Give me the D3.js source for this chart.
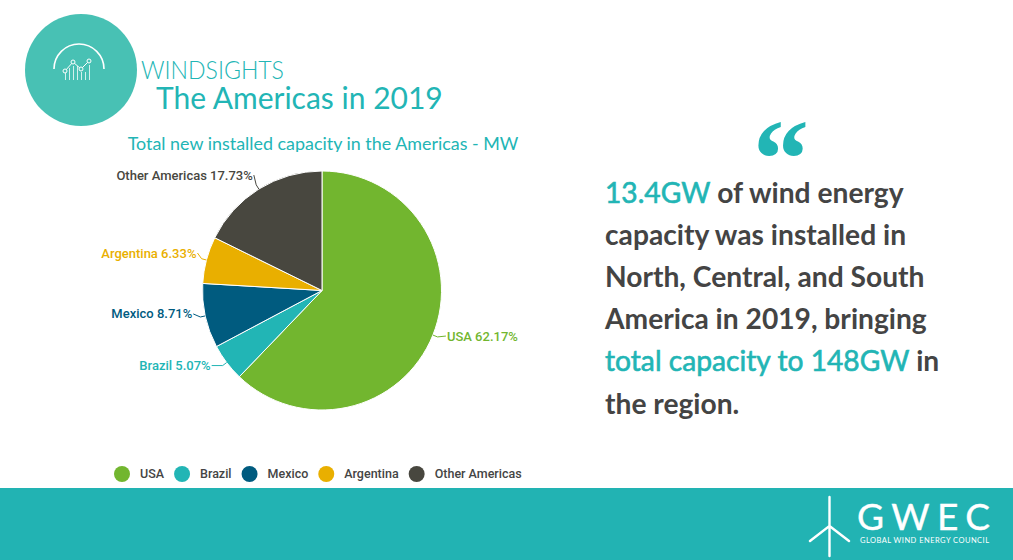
<!DOCTYPE html>
<html>
<head>
<meta charset="utf-8">
<script src="https://cdnjs.cloudflare.com/ajax/libs/d3/7.8.5/d3.min.js"></script>
<style>
  html, body { margin: 0; padding: 0; background: #fff; }
  svg { display: block; }
  text { font-family: Lato, sans-serif; }
  .lbl, .leg { font-family: Roboto, sans-serif; font-weight: 500; }
  .lbl { font-size: 13px; }
  .leg { font-size: 12.5px; }
</style>
</head>
<body>
<svg id="chart" width="1013" height="560"></svg>
<script>
// donnees du camembert
const regions = ["USA", "Brazil", "Mexico", "Argentina", "Other Americas"];
const shares = [62.17, 5.07, 8.71, 6.33, 17.73];
const colours = ["#72b62f", "#22b5b5", "#005b7f", "#e9af00", "#48473f"];

// texte de droite : [morceau, en couleur ?]
const quoteLines = [
  [["13.4GW", true], [" of wind energy", false]],
  [["capacity was installed in", false]],
  [["North, Central, and South", false]],
  [["America in 2019, bringing", false]],
  [["total capacity to 148GW", true], [" in", false]],
  [["the region.", false]]
];

// decalage des etiquettes par rapport au bord de la part
const labelNudge = [[14, 1], [-16, 3], [-13, -2], [-10, -7], [-6, -14]];

const teal = "#22b5b5";
const dark = "#444444";
const cx = 322, cy = 290.5, radius = 119.5;

const svg = d3.select("#chart");

// bandeau du bas
svg.append("rect").attr("x", 0).attr("y", 488).attr("width", 1013).attr("height", 72).attr("fill", "#22b3b3");

/* ---------- entete ---------- */
svg.append("circle").attr("cx", 81).attr("cy", 70).attr("r", 56).attr("fill", "#48c1b4");

const icon = svg.append("g").attr("fill", "none").attr("stroke", "#fff");
icon.append("path")
  .attr("d", d3.arc()({ innerRadius: 25, outerRadius: 25, startAngle: -Math.PI / 2, endAngle: Math.PI / 2 }))
  .attr("transform", "translate(79,69)")
  .attr("stroke-width", 1.6);
const iconPts = [[65, 71], [73, 62], [81, 69], [89, 61]];
icon.append("path").attr("d", d3.line()(iconPts)).attr("stroke-width", 1);
[[65.5, 72], [69.5, 68], [73.5, 66], [77.5, 66], [81.5, 72], [85.5, 72], [89.5, 65]].forEach(b => {
  icon.append("line").attr("x1", b[0]).attr("x2", b[0]).attr("y1", b[1]).attr("y2", 80).attr("stroke-width", 0.9).attr("opacity", 0.85);
});
iconPts.forEach(p => {
  icon.append("circle").attr("cx", p[0]).attr("cy", p[1]).attr("r", 2).attr("fill", "#48c1b4").attr("stroke-width", 1);
});

svg.append("text").attr("x", 141).attr("y", 79).attr("font-size", 25).attr("font-weight", 300)
  .attr("fill", teal).attr("textLength", 143).attr("lengthAdjust", "spacingAndGlyphs").text("WINDSIGHTS");
svg.append("text").attr("x", 156).attr("y", 109).attr("font-size", 30).attr("fill", teal).text("The Americas in 2019");

// le titre est coupe en bas dans l'original
svg.append("clipPath").attr("id", "titleClip").append("rect")
  .attr("x", 100).attr("y", 125).attr("width", 450).attr("height", 27);
svg.append("g").attr("clip-path", "url(#titleClip)").append("text")
  .attr("x", 323).attr("y", 150).attr("text-anchor", "middle").attr("font-size", 17.9)
  .attr("fill", teal).text("Total new installed capacity in the Americas - MW");

/* ---------- camembert ---------- */
const pieData = d3.pie().sort(null)(shares);
const arc = d3.arc().innerRadius(0).outerRadius(radius);
const pieG = svg.append("g").attr("transform", `translate(${cx},${cy})`);

pieG.selectAll("path.slice")
  .data(pieData)
  .enter()
  .append("path")
  .attr("class", "slice")
  .attr("d", arc)
  .attr("fill", (d, i) => colours[i])
  .attr("stroke", "#fff")
  .attr("stroke-width", 1);

pieData.forEach((d, i) => {
  const mid = (d.startAngle + d.endAngle) / 2;
  const ex = Math.sin(mid) * radius, ey = -Math.cos(mid) * radius;
  const lx = ex + labelNudge[i][0], ly = ey + labelNudge[i][1];
  const right = lx > 0;
  const ox = Math.sin(mid) * (radius + 5), oy = -Math.cos(mid) * (radius + 5);
  pieG.append("path")
    .attr("d", d3.line()([[ex, ey], [ox, oy], [lx + (right ? -1 : 1), ly]]))
    .attr("fill", "none")
    .attr("stroke", colours[i])
    .attr("stroke-width", 1);
  pieG.append("text")
    .attr("class", "lbl")
    .attr("x", lx)
    .attr("y", ly + 4.5)
    .attr("text-anchor", right ? "start" : "end")
    .attr("fill", colours[i])
    .text(regions[i] + " " + shares[i].toFixed(2) + "%");
});

/* ---------- legende ---------- */
let legX = 114;
regions.forEach((r, i) => {
  svg.append("circle").attr("cx", legX + 8).attr("cy", 474).attr("r", 8).attr("fill", colours[i]);
  const t = svg.append("text").attr("class", "leg").attr("x", legX + 26).attr("y", 478).attr("fill", dark).text(r);
  legX += 26 + t.node().getComputedTextLength() + 10;
});

/* ---------- citation ---------- */
svg.append("text").attr("x", 781).attr("y", 197).attr("text-anchor", "middle")
  .style("font-family", "'Liberation Serif', serif")
  .attr("font-size", 112).attr("font-weight", 700).attr("fill", teal).text("\u201C");

const quote = svg.append("text").attr("font-size", 28.2).attr("font-weight", 700);
quoteLines.forEach((line, i) => {
  line.forEach((part, j) => {
    const s = quote.append("tspan").attr("fill", part[1] ? teal : dark)
      .attr("font-weight", part[1] ? 400 : 700)
      .attr("xml:space", "preserve").text(part[0]);
    // pas de graisse moyenne installee : on epaissit le regular
    if (part[1]) s.attr("stroke", teal).attr("stroke-width", 0.6);
    if (j === 0) s.attr("x", 605).attr("y", 203 + i * 42.1);
  });
});

/* ---------- logo GWEC ---------- */
const turbine = svg.append("g").attr("stroke", "#fff").attr("stroke-width", 2.4).attr("stroke-linecap", "round").attr("fill", "none");
turbine.append("path").attr("d", "M829.5,497L829.5,526L810,541M829.5,526L849,541M829.5,526L829.5,556");
svg.append("text").attr("x", 857).attr("y", 530).attr("font-size", 37).attr("font-weight", 400)
  .attr("fill", "#fff").attr("stroke", "#fff").attr("stroke-width", 0.4).attr("textLength", 133).text("GWEC");
svg.append("text").attr("x", 860).attr("y", 543).attr("font-size", 7.5).attr("font-weight", 400)
  .attr("fill", "#fff").attr("textLength", 129).text("GLOBAL WIND ENERGY COUNCIL");
</script>
</body>
</html>
